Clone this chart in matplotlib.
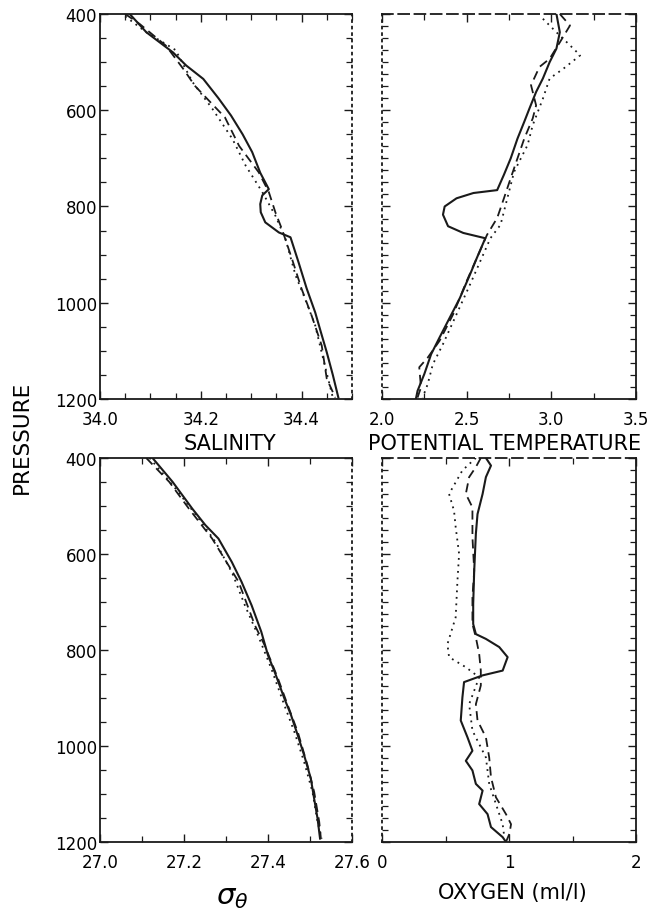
"""
Hydrographic profiles: salinity, potential temperature, sigma-theta
and oxygen versus pressure for three casts (solid, dashed, dotted).
"""

import numpy as np
import matplotlib
matplotlib.use('Agg')
import matplotlib.pyplot as plt
from matplotlib.ticker import MultipleLocator, FixedLocator

plt.rcParams['font.family'] = ['DejaVu Sans']

# --- Salinity ---
sal_solid_p = [400, 438, 480, 507, 535, 575, 611, 650, 687, 730, 764, 777, 795, 812, 833, 854,
               864, 890, 916, 970, 1020, 1060, 1103, 1150, 1197]
sal_solid = [34.059, 34.092, 34.145, 34.171, 34.205, 34.235, 34.260, 34.283, 34.302, 34.318,
             34.335, 34.322, 34.318, 34.319, 34.328, 34.355, 34.378, 34.386, 34.394, 34.410,
             34.427, 34.438, 34.450, 34.462, 34.473]
sal_dash_p = [400, 421, 466, 518, 549, 570, 615, 674, 729, 770, 812, 847, 909, 971, 1027, 1089, 1158, 1197]
sal_dash = [34.050, 34.079, 34.131, 34.168, 34.188, 34.207, 34.248, 34.276, 34.315, 34.335,
            34.348, 34.361, 34.381, 34.400, 34.420, 34.440, 34.450, 34.467]
sal_dot_p = [405, 438, 475, 542, 597, 660, 715, 770, 819, 867, 943, 992, 1047, 1117, 1197]
sal_dot = [34.050, 34.092, 34.150, 34.184, 34.223, 34.263, 34.289, 34.322, 34.348, 34.368,
           34.388, 34.407, 34.427, 34.443, 34.462]

# --- Potential temperature ---
th_solid_p = [400, 438, 472, 500, 534, 562, 597, 624, 659, 700, 734, 766, 772, 783, 800, 817,
              841, 855, 866, 907, 941, 990, 1031, 1072, 1107, 1148, 1183, 1200]
th_solid = [3.03, 3.05, 3.03, 2.99, 2.95, 2.91, 2.87, 2.84, 2.80, 2.76, 2.72, 2.68, 2.54, 2.44,
            2.37, 2.36, 2.39, 2.48, 2.61, 2.56, 2.52, 2.46, 2.40, 2.34, 2.29, 2.25, 2.21, 2.20]
th_dash_p = [400, 424, 459, 493, 510, 548, 590, 617, 659, 700, 741, 783, 824, 859, 907, 955,
             1024, 1079, 1114, 1134, 1176, 1197]
th_dash = [3.05, 3.11, 3.05, 2.99, 2.93, 2.88, 2.91, 2.89, 2.84, 2.80, 2.76, 2.72, 2.68, 2.62,
           2.56, 2.50, 2.42, 2.34, 2.27, 2.22, 2.23, 2.21]
th_dot_p = [410, 438, 472, 486, 514, 534, 576, 631, 672, 728, 783, 838, 866, 914, 962, 1024,
            1086, 1128, 1169, 1197]
th_dot = [2.95, 3.03, 3.13, 3.17, 3.07, 2.99, 2.95, 2.89, 2.86, 2.78, 2.74, 2.70, 2.64, 2.58,
          2.52, 2.44, 2.36, 2.30, 2.27, 2.24]

# --- Sigma-theta ---
sig_solid_p = [400, 450, 506, 540, 568, 617, 658, 707, 762, 811, 846, 901, 936, 978, 1019,
               1068, 1110, 1151, 1193]
sig_solid = [27.125, 27.173, 27.220, 27.251, 27.282, 27.314, 27.337, 27.361, 27.384, 27.400,
             27.416, 27.439, 27.455, 27.471, 27.486, 27.502, 27.510, 27.518, 27.524]
sig_dash_p = [400, 450, 506, 568, 658, 749, 790, 860, 915, 971, 1040, 1096, 1158, 1193]
sig_dash = [27.110, 27.165, 27.212, 27.267, 27.330, 27.369, 27.392, 27.424, 27.447, 27.471,
            27.494, 27.510, 27.522, 27.526]
sig_dot_p = [400, 464, 526, 575, 640, 707, 769, 839, 915, 971, 1033, 1096, 1158, 1193]
sig_dot = [27.118, 27.180, 27.235, 27.275, 27.315, 27.345, 27.376, 27.408, 27.439, 27.463,
           27.486, 27.506, 27.518, 27.528]

# --- Oxygen (ml/l) ---
ox_solid_p = [400, 416, 440, 475, 517, 558, 635, 704, 746, 767, 777, 794, 815, 843, 853, 867,
              899, 947, 982, 1010, 1031, 1051, 1079, 1093, 1121, 1142, 1169, 1190, 1200]
ox_solid = [0.818, 0.858, 0.818, 0.792, 0.752, 0.739, 0.726, 0.718, 0.718, 0.739, 0.818, 0.923,
            0.989, 0.950, 0.792, 0.646, 0.633, 0.620, 0.673, 0.712, 0.660, 0.712, 0.739, 0.792,
            0.765, 0.831, 0.858, 0.950, 0.976]
ox_dash_p = [400, 419, 440, 475, 503, 565, 635, 690, 746, 774, 808, 843, 874, 913, 947, 982,
             1024, 1065, 1107, 1142, 1163, 1183, 1200]
ox_dash = [0.778, 0.739, 0.686, 0.660, 0.712, 0.712, 0.726, 0.712, 0.712, 0.739, 0.765, 0.778,
           0.778, 0.739, 0.752, 0.818, 0.844, 0.858, 0.897, 0.976, 1.016, 1.003, 0.976]
ox_dot_p = [400, 426, 475, 510, 544, 600, 656, 732, 788, 815, 836, 857, 913, 968, 1024, 1079,
            1121, 1163, 1190]
ox_dot = [0.739, 0.633, 0.528, 0.567, 0.580, 0.607, 0.594, 0.580, 0.515, 0.528, 0.660, 0.765,
          0.686, 0.712, 0.818, 0.844, 0.897, 0.950, 0.963]

# labelled ticks per panel
sal_ticks = [34.0, 34.2, 34.4]
th_ticks = [2.0, 2.5, 3.0, 3.5]
sig_ticks = [27.0, 27.2, 27.4, 27.6]
ox_ticks = [0, 1, 2]
p_ticks = [400, 600, 800, 1000, 1200]

INK = '#1a1a1a'
DASH = (0, (5, 3))
DOT = (0, (1, 2.6))
TICK_FS = 12
LABEL_FS = 15


def style_axis(ax, xlim, xticks, xminor, xlabels, left_panel):
    """Frame, ticks and limits in the look of the scanned figure."""
    ax.set_xlim(*xlim)
    ax.set_ylim(1200, 400)
    ax.xaxis.set_major_locator(FixedLocator(xticks))
    ax.xaxis.set_minor_locator(MultipleLocator(xminor))
    ax.set_xticklabels(xlabels, fontsize=TICK_FS)
    ax.yaxis.set_major_locator(FixedLocator(p_ticks))
    ax.yaxis.set_minor_locator(MultipleLocator(50 if left_panel else 25))
    ax.tick_params(which='both', direction='in', top=True, right=True, color=INK)
    ax.tick_params(which='major', length=6, width=1.0)
    ax.tick_params(which='minor', length=4, width=0.9)
    ax.tick_params(axis='x', pad=8)
    if left_panel:
        ax.set_yticklabels([str(v) for v in p_ticks], fontsize=TICK_FS)
        ax.tick_params(axis='y', pad=2)
        ax.spines['right'].set_linestyle(DOT)
    else:
        ax.set_yticklabels([])
        ax.spines['left'].set_linestyle(DOT)
        ax.spines['top'].set_linestyle((0, (6, 3)))
    for side in ax.spines:
        ax.spines[side].set_color(INK)
        ax.spines[side].set_linewidth(1.3)


def draw_profiles(ax, solid, dash, dot):
    ax.plot(solid[0], solid[1], color=INK, lw=1.5, linestyle='-')
    ax.plot(dash[0], dash[1], color=INK, lw=1.3, linestyle=DASH)
    ax.plot(dot[0], dot[1], color=INK, lw=1.3, linestyle=DOT)


fig = plt.figure(figsize=(6.5, 9.12), dpi=100)

ax_sal = fig.add_axes([0.1538, 0.5614, 0.3877, 0.4222])
ax_th = fig.add_axes([0.5877, 0.5614, 0.3908, 0.4222])
ax_sig = fig.add_axes([0.1538, 0.0757, 0.3877, 0.4211])
ax_ox = fig.add_axes([0.5877, 0.0757, 0.3908, 0.4211])

draw_profiles(ax_sal, (sal_solid, sal_solid_p), (sal_dash, sal_dash_p), (sal_dot, sal_dot_p))
draw_profiles(ax_th, (th_solid, th_solid_p), (th_dash, th_dash_p), (th_dot, th_dot_p))
draw_profiles(ax_sig, (sig_solid, sig_solid_p), (sig_dash, sig_dash_p), (sig_dot, sig_dot_p))
draw_profiles(ax_ox, (ox_solid, ox_solid_p), (ox_dash, ox_dash_p), (ox_dot, ox_dot_p))

style_axis(ax_sal, (34.0, 34.5), sal_ticks, 0.05, [f'{v:.1f}' for v in sal_ticks], True)
style_axis(ax_th, (2.0, 3.5), th_ticks, 0.25, [f'{v:.1f}' for v in th_ticks], False)
style_axis(ax_sig, (27.0, 27.6), sig_ticks, 0.1, [f'{v:.1f}' for v in sig_ticks], True)
style_axis(ax_ox, (0, 2), ox_ticks, 0.5, [str(v) for v in ox_ticks], False)

# Axis titles placed as in the original figure
fig.text(230 / 650, 1 - 444 / 912, 'SALINITY', ha='center', va='center', fontsize=LABEL_FS)
fig.text(505 / 650, 1 - 444 / 912, 'POTENTIAL TEMPERATURE', ha='center', va='center', fontsize=LABEL_FS)
fig.text(232 / 650, 1 - 897 / 912, r'$\sigma_\theta$', ha='center', va='center', fontsize=21)
fig.text(512 / 650, 1 - 893 / 912, 'OXYGEN (ml/l)', ha='center', va='center', fontsize=LABEL_FS)
fig.text(22 / 650, 1 - 437 / 912, 'PRESSURE', ha='center', va='center', rotation=90, fontsize=15.5)

plt.savefig('out.png', dpi=100)
plt.close()
